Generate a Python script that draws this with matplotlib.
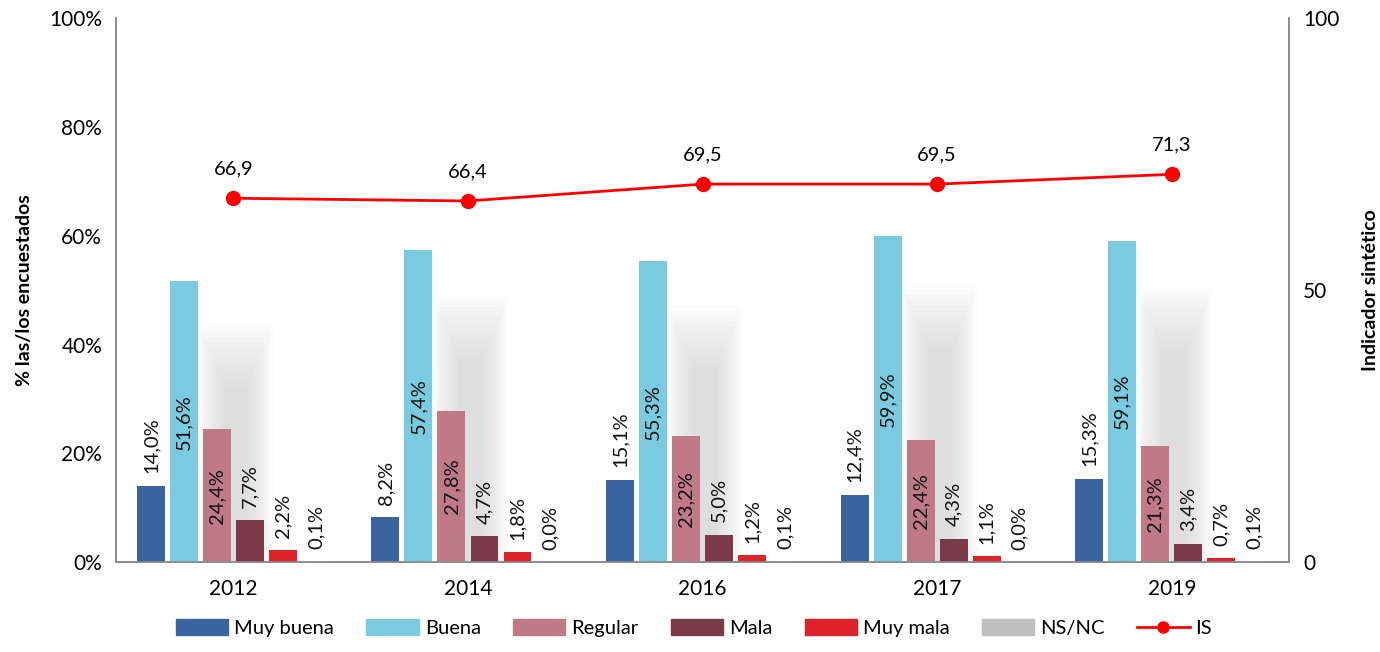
import numpy as np
import matplotlib.pyplot as plt
from matplotlib.patches import Patch, Rectangle
from matplotlib.lines import Line2D

plt.rcParams['font.family'] = ['Lato', 'DejaVu Sans']

anios = ["2012", "2014", "2016", "2017", "2019"]
categorias = ["Muy buena", "Buena", "Regular", "Mala", "Muy mala", "NS/NC"]
muy_buena = [14.0, 8.2, 15.1, 12.4, 15.3]
buena = [51.6, 57.4, 55.3, 59.9, 59.1]
regular = [24.4, 27.8, 23.2, 22.4, 21.3]
mala = [7.7, 4.7, 5.0, 4.3, 3.4]
muy_mala = [2.2, 1.8, 1.2, 1.1, 0.7]
ns_nc = [0.1, 0.0, 0.1, 0.0, 0.1]
indicador = [66.9, 66.4, 69.5, 69.5, 71.3]

series = [muy_buena, buena, regular, mala, muy_mala, ns_nc]
colores = ["#3A64A0", "#7BCBE0", "#C07A87", "#7B3A4A", "#DE2229", "#BFBFBF"]
dentro = [False, True, True, False, False, False]

fig = plt.figure(figsize=(13.8, 6.52), dpi=100)
ax = fig.add_axes([0.0841, 0.138, 0.8500, 0.834])
ax2 = ax.twinx()

x = np.arange(len(anios))
paso = 0.1407
ancho = 0.119

# sombra difusa detras de las barras
for xi, b in zip(x, buena):
    for k in range(14):
        w = 0.32 - k * 0.017
        h = b * 0.85 - k * 0.9
        ax.add_patch(Rectangle((xi + 0.01 - w / 2, 0), w, h, color="#8A8A8A",
                               alpha=0.02, lw=0, zorder=1))

for i, (vals, col) in enumerate(zip(series, colores)):
    pos = x + (i - 2.5) * paso
    ax.bar(pos, vals, width=ancho, color=col, zorder=3, label=categorias[i])
    for p, v in zip(pos, vals):
        txt = f"{v:.1f}%".replace(".", ",")
        if dentro[i]:
            ax.text(p, v / 2, txt, rotation=90, ha="center", va="center",
                    fontsize=14.5, color="#111111", zorder=5)
        else:
            ax.annotate(txt, (p, v), xytext=(0, 9), textcoords="offset points",
                        rotation=90, ha="center", va="bottom", fontsize=14.5,
                        color="#111111", zorder=5)

ax.set_xlim(-0.5, len(anios) - 0.5)
ax.set_ylim(0, 100)
ax.set_yticks([0, 20, 40, 60, 80, 100])
ax.set_yticklabels([f"{t}%" for t in [0, 20, 40, 60, 80, 100]])
ax.set_xticks(x)
ax.set_xticklabels(anios)
ax.set_ylabel("% las/los encuestados", fontsize=14, fontweight="bold", labelpad=12)

ax2.plot(x, indicador, color="#FF0000", lw=2, marker="o", markersize=10, zorder=6)
for xi, v in zip(x, indicador):
    ax2.annotate(f"{v:.1f}".replace(".", ","), (xi, v), xytext=(0, 15),
                 textcoords="offset points", ha="center", va="bottom", fontsize=14.5)
ax2.set_ylim(0, 100)
ax2.set_yticks([0, 50, 100])
ax2.set_ylabel("Indicador sintético", fontsize=14, fontweight="bold", labelpad=16)

for a in (ax, ax2):
    a.spines["top"].set_visible(False)
    for s in ("left", "right", "bottom"):
        a.spines[s].set_color("#8C8C8C")
        a.spines[s].set_linewidth(1.2)
    a.tick_params(length=0, labelsize=15, pad=10)
ax.tick_params(axis="x", pad=12)

handles = [Patch(color=c) for c in colores]
handles.append(Line2D([], [], color="#FF0000", lw=2, marker="o", markersize=8))
fig.legend(handles, categorias + ["IS"], loc="lower center", ncol=7,
           frameon=False, fontsize=14.5, bbox_to_anchor=(0.503, -0.005),
           handlelength=2.6, handleheight=0.8, columnspacing=1.6, handletextpad=0.3)

fig.savefig("out.png", dpi=100)
